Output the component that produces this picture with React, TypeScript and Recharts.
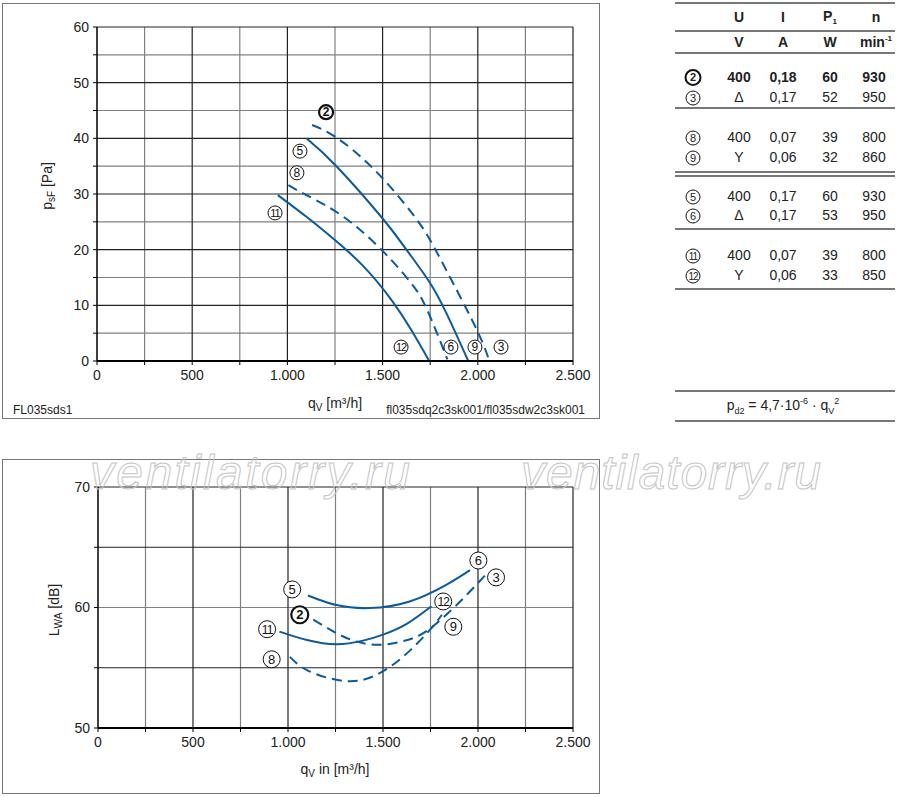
import React from 'react';
import { ComposedChart, Line, Scatter, XAxis, YAxis, ReferenceLine } from 'recharts';

// ---- pressure chart (top) ----
const q2 = [1130, 1250, 1450, 1660, 1765, 1870, 1995, 2055];
const p2 = [42.4, 40.3, 34.6, 26.3, 20.8, 14.0, 5.6, 0.6];
const q5 = [1100, 1260, 1500, 1625, 1740, 1835, 1950];
const p5 = [40.0, 34.9, 25.6, 20.0, 14.5, 8.6, 0];
const q8 = [1005, 1100, 1295, 1505, 1645, 1730, 1840];
const p8 = [31.6, 29.8, 25.9, 19.6, 14.2, 9.5, 0.3];
const q11 = [950, 1100, 1240, 1400, 1550, 1650, 1745];
const p11 = [29.8, 25.9, 22.0, 17.0, 10.8, 5.6, 0];

const topTags = ['2', '5', '8', '11', '12', '6', '9', '3'];
const topTagQ = [1203, 1066, 1050, 935, 1597, 1859, 1985, 2122];
const topTagP = [44.7, 37.7, 33.8, 26.6, 2.5, 2.5, 2.5, 2.5];

// ---- sound chart (bottom) ----
const s2q = [1133, 1240, 1345, 1470, 1590, 1680, 1760, 1840, 1925, 2010, 2050];
const s2v = [59.0, 58.0, 57.25, 56.9, 57.15, 57.6, 58.4, 59.5, 60.8, 62.2, 62.9];
const s5q = [1105, 1255, 1430, 1640, 1835, 1958];
const s5v = [61.0, 60.2, 59.95, 60.5, 61.9, 63.1];
const s8q = [1010, 1100, 1255, 1395, 1520, 1640, 1750, 1810];
const s8v = [55.9, 54.8, 54.0, 54.0, 54.9, 56.4, 58.2, 59.4];
const s11q = [955, 1100, 1255, 1395, 1500, 1625, 1755];
const s11v = [58.0, 57.3, 56.95, 57.25, 57.75, 58.65, 60.1];

const botTags = ['5', '2', '11', '8', '6', '3', '12', '9'];
const botTagQ = [1022, 1062, 890, 914, 2002, 2095, 1817, 1870];
const botTagV = [61.5, 59.4, 58.2, 55.7, 63.9, 62.5, 60.5, 58.4];

const boldTag = '2';

// ---- grid / ticks ----
const qTicks = [0, 250, 500, 750, 1000, 1250, 1500, 1750, 2000, 2250, 2500];
const qMajor = [500, 1000, 1500, 2000, 2500];
const qMinor = [250, 750, 1250, 1750, 2250];
const pTicks = [0, 5, 10, 15, 20, 25, 30, 35, 40, 45, 50, 55, 60];
const pMajor = [10, 20, 30, 40, 50, 60];
const pMinor = [5, 15, 25, 35, 45, 55];
const lTicks = [50, 55, 60, 65, 70];
const lMajor = [55, 65, 70];
const lMinor = [60];

// ---- table ----
const tabIds = ['2', '3', '8', '9', '5', '6', '11', '12'];
const tabU = ['400', 'Δ', '400', 'Y', '400', 'Δ', '400', 'Y'];
const tabI = ['0,18', '0,17', '0,07', '0,06', '0,17', '0,17', '0,07', '0,06'];
const tabP = ['60', '52', '39', '32', '60', '53', '39', '33'];
const tabN = ['930', '950', '800', '860', '930', '950', '800', '850'];
const tabRowY = [77, 97, 137, 157, 196, 215, 255, 275];

const BLUE = '#0b5a9c';
const FONT = '"Liberation Sans", Arial, sans-serif';

const pairs = (q: number[], v: number[]) => q.map((x, i) => ({ q: x, v: v[i] }));
const tags = (t: string[], q: number[], v: number[]) => t.map((s, i) => ({ q: q[i], v: v[i], t: s }));

const fmtQ = (v: number) => {
  if (v % 500 !== 0) return '';
  if (v < 1000) return String(v);
  return `${Math.floor(v / 1000)}.${String(v % 1000).padStart(3, '0')}`;
};

const makeTag = (r: number, fs: number) => (props: any) => {
  const { cx, cy, payload } = props;
  const bold = payload.t === boldTag;
  const two = payload.t.length > 1;
  return (
    <g>
      <circle cx={cx} cy={cy} r={r} fill="#fff" stroke="#111" strokeWidth={bold ? 2.2 : 1} />
      <text
        x={cx}
        y={cy + fs * 0.36}
        textAnchor="middle"
        fontSize={two ? fs - 1 : fs}
        fontFamily={FONT}
        fontWeight={bold ? 'bold' : 'normal'}
        letterSpacing={two ? -1 : 0}
        fill="#111"
      >
        {payload.t}
      </text>
    </g>
  );
};

const tickStyle = { fill: '#222', fontSize: 14, fontFamily: FONT };

const grid = (xs: number[], ys: number[], color: string, w: number, key: string) => [
  ...xs.map(x => <ReferenceLine key={`${key}x${x}`} x={x} stroke={color} strokeWidth={w} />),
  ...ys.map(y => <ReferenceLine key={`${key}y${y}`} y={y} stroke={color} strokeWidth={w} />),
];

const curve = (data: { q: number; v: number }[], dashed: boolean, key: string) => (
  <Line
    key={key}
    data={data}
    dataKey="v"
    type="natural"
    stroke={BLUE}
    strokeWidth={2}
    strokeDasharray={dashed ? '10 6' : undefined}
    dot={false}
    isAnimationActive={false}
  />
);

const Frame = ({ top, height }: { top: number; height: number }) => (
  <div style={{ position: 'absolute', left: 2, top, width: 596, height, border: '1.5px solid #777' }} />
);

const Circ = ({ t, bold }: { t: string; bold?: boolean }) => (
  <span
    style={{
      display: 'inline-block',
      width: 13,
      height: 13,
      lineHeight: '13px',
      borderRadius: '50%',
      border: bold ? '2px solid #111' : '1px solid #111',
      fontSize: t.length > 1 ? 10 : 11,
      letterSpacing: t.length > 1 ? -1 : 0,
      textAlign: 'center',
      fontWeight: bold ? 'bold' : 'normal',
    }}
  >
    {t}
  </span>
);

const Cell = ({ x, y, children, bold }: { x: number; y: number; children: React.ReactNode; bold?: boolean }) => (
  <div
    style={{
      position: 'absolute',
      left: x,
      top: y,
      transform: 'translate(-50%, -50%)',
      whiteSpace: 'nowrap',
      fontSize: 14,
      fontWeight: bold ? 'bold' : 'normal',
      color: '#222',
    }}
  >
    {children}
  </div>
);

const HLine = ({ y, w = 1.5 }: { y: number; w?: number }) => (
  <div style={{ position: 'absolute', left: 675, top: y, width: 220, height: w, background: '#777' }} />
);

const title: React.CSSProperties = { position: 'absolute', fontSize: 14, color: '#222', whiteSpace: 'nowrap' };

export default function App() {
  const TopTag = makeTag(7, 12);
  const BotTag = makeTag(8.5, 13);
  return (
    <div style={{ position: 'absolute', left: 0, top: 0, width: 900, height: 797, background: '#fff', fontFamily: FONT, overflow: 'hidden' }}>
      <Frame top={3} height={414} />
      <Frame top={459} height={333} />

      <div style={{ position: 'absolute', left: 0, top: 0 }}>
        <ComposedChart width={600} height={420} margin={{ top: 27, right: 27, bottom: 29, left: 57 }}>
          <XAxis
            type="number"
            dataKey="q"
            domain={[0, 2500]}
            ticks={qTicks}
            interval={0}
            tickFormatter={fmtQ}
            tick={tickStyle}
            tickSize={4}
            tickMargin={5}
            tickLine={{ stroke: '#000' }}
            axisLine={{ stroke: '#000', strokeWidth: 2 }}
            height={30}
            allowDataOverflow
          />
          <YAxis
            type="number"
            domain={[0, 60]}
            ticks={pTicks}
            interval={0}
            tickFormatter={(v: number) => (v % 10 === 0 ? String(v) : '')}
            tick={tickStyle}
            tickSize={4}
            tickMargin={4}
            tickLine={{ stroke: '#000' }}
            axisLine={{ stroke: '#000', strokeWidth: 1.5 }}
            width={40}
            allowDataOverflow
          />
          {grid(qMinor, pMinor, '#808080', 1.2, 'tn')}
          {grid(qMajor, pMajor, '#222', 1.2, 'tj')}
          {curve(pairs(q2, p2), true, 'c2')}
          {curve(pairs(q5, p5), false, 'c5')}
          {curve(pairs(q8, p8), true, 'c8')}
          {curve(pairs(q11, p11), false, 'c11')}
          <Scatter data={tags(topTags, topTagQ, topTagP)} dataKey="v" shape={TopTag} isAnimationActive={false} />
        </ComposedChart>
      </div>

      <div style={{ position: 'absolute', left: 0, top: 459 }}>
        <ComposedChart width={600} height={335} margin={{ top: 28, right: 27, bottom: 36, left: 58 }}>
          <XAxis
            type="number"
            dataKey="q"
            domain={[0, 2500]}
            ticks={qTicks}
            interval={0}
            tickFormatter={fmtQ}
            tick={tickStyle}
            tickSize={4}
            tickMargin={5}
            tickLine={{ stroke: '#000' }}
            axisLine={{ stroke: '#000', strokeWidth: 2 }}
            height={30}
            allowDataOverflow
          />
          <YAxis
            type="number"
            domain={[50, 70]}
            ticks={lTicks}
            interval={0}
            tickFormatter={(v: number) => (v % 10 === 0 ? String(v) : '')}
            tick={tickStyle}
            tickSize={4}
            tickMargin={4}
            tickLine={{ stroke: '#000' }}
            axisLine={{ stroke: '#000', strokeWidth: 1.5 }}
            width={40}
            allowDataOverflow
          />
          {grid(qMinor, lMinor, '#808080', 1.2, 'bn')}
          {grid(qMajor, lMajor, '#222', 1.2, 'bj')}
          {curve(pairs(s5q, s5v), false, 'd5')}
          {curve(pairs(s2q, s2v), true, 'd2')}
          {curve(pairs(s11q, s11v), false, 'd11')}
          {curve(pairs(s8q, s8v), true, 'd8')}
          <Scatter data={tags(botTags, botTagQ, botTagV)} dataKey="v" shape={BotTag} isAnimationActive={false} />
        </ComposedChart>
      </div>

      {/* axis titles */}
      <div style={{ ...title, left: 335, top: 404, transform: 'translate(-50%, -50%)' }}>
        q<sub style={{ fontSize: 10 }}>V</sub> [m³/h]
      </div>
      <div style={{ ...title, left: 335, top: 770, transform: 'translate(-50%, -50%)' }}>
        q<sub style={{ fontSize: 10 }}>V</sub> in [m³/h]
      </div>
      <div style={{ ...title, left: 48, top: 186, transform: 'translate(-50%, -50%) rotate(-90deg)' }}>
        p<sub style={{ fontSize: 10 }}>sF</sub> [Pa]
      </div>
      <div style={{ ...title, left: 55, top: 610, transform: 'translate(-50%, -50%) rotate(-90deg)' }}>
        L<sub style={{ fontSize: 10 }}>WA</sub> [dB]
      </div>
      <div style={{ position: 'absolute', left: 13, top: 403, fontSize: 12, color: '#222' }}>FL035sds1</div>
      <div style={{ position: 'absolute', right: 315, top: 403, fontSize: 12, color: '#222' }}>fl035sdq2c3sk001/fl035sdw2c3sk001</div>

      {/* table */}
      <HLine y={2} w={2} />
      <HLine y={30} />
      <HLine y={52} />
      <HLine y={107} />
      <HLine y={171} />
      <HLine y={175} />
      <HLine y={228} />
      <HLine y={288} />
      <Cell x={739} y={17} bold>U</Cell>
      <Cell x={783} y={17} bold>I</Cell>
      <Cell x={830} y={17} bold>P<sub style={{ fontSize: 8 }}>1</sub></Cell>
      <Cell x={876} y={17} bold>n</Cell>
      <Cell x={739} y={42} bold>V</Cell>
      <Cell x={783} y={42} bold>A</Cell>
      <Cell x={830} y={42} bold>W</Cell>
      <Cell x={876} y={42} bold>min<sup style={{ fontSize: 8 }}>-1</sup></Cell>
      {tabIds.map((id, i) => (
        <React.Fragment key={id}>
          <Cell x={693} y={tabRowY[i]}><Circ t={id} bold={id === boldTag} /></Cell>
          <Cell x={739} y={tabRowY[i]} bold={i === 0}>{tabU[i]}</Cell>
          <Cell x={783} y={tabRowY[i]} bold={i === 0}>{tabI[i]}</Cell>
          <Cell x={830} y={tabRowY[i]} bold={i === 0}>{tabP[i]}</Cell>
          <Cell x={874} y={tabRowY[i]} bold={i === 0}>{tabN[i]}</Cell>
        </React.Fragment>
      ))}
      <HLine y={390} />
      <HLine y={420} />
      <Cell x={783} y={406}>
        p<sub style={{ fontSize: 9 }}>d2</sub> = 4,7·10<sup style={{ fontSize: 9 }}>-6</sup> · q<sub style={{ fontSize: 9 }}>V</sub><sup style={{ fontSize: 9 }}>2</sup>
      </Cell>

      {/* watermark */}
      <svg width={900} height={797} style={{ position: 'absolute', left: 0, top: 0, pointerEvents: 'none' }}>
        <text x={90} y={489} fontSize={48} fontStyle="italic" fontFamily={FONT} fill="none" stroke="#c4c4c4" strokeWidth={1} textLength={320} lengthAdjust="spacing">
          ventilatorry.ru
        </text>
        <text x={521} y={489} fontSize={48} fontStyle="italic" fontFamily={FONT} fill="none" stroke="#c4c4c4" strokeWidth={1} textLength={300} lengthAdjust="spacing">
          ventilatorry.ru
        </text>
      </svg>
    </div>
  );
}
